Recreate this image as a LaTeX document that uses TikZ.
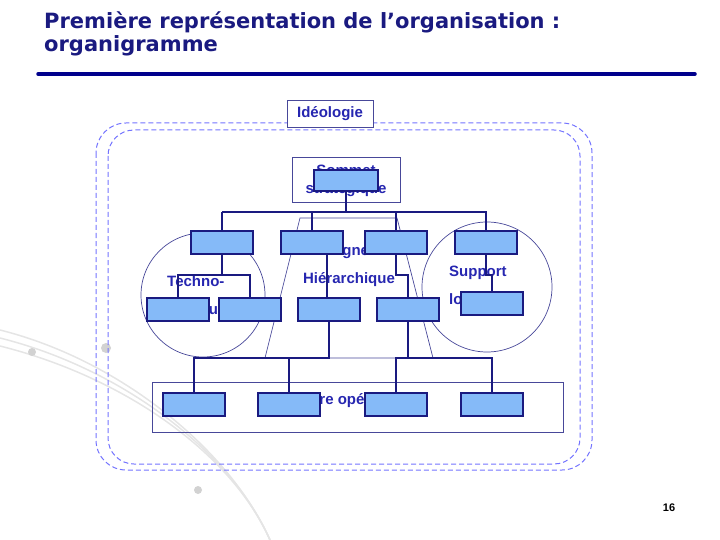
\documentclass[tikz,border=0pt]{standalone}
\usepackage{fontspec}
\setmainfont{Liberation Sans}
\newfontfamily\titlefont{DejaVu Sans}
\definecolor{navy}{HTML}{1A1A80}
\definecolor{lblue}{HTML}{2626B0}
\definecolor{bfill}{HTML}{85BAF8}
\begin{document}
\begin{tikzpicture}[x=1pt,y=-1pt,
  bx/.style={draw=navy,line width=2pt,fill=bfill},
  wire/.style={draw=navy,line width=2.4pt},
  thin/.style={draw=navy!80,line width=0.7pt},
  lab/.style={text=lblue,font=\bfseries\fontsize{15}{28}\selectfont},
  dsh/.style={draw=blue!55!white,line width=1pt,dash pattern=on 5pt off 3pt}]
\useasboundingbox (0,0) rectangle (720,540);
% decorative swirl
\foreach \r in {0,8,16} {\draw[gray!20,line width=1.5pt] (0,330+\r) .. controls (120,360+\r) and (230,450) .. (270,540);}
\fill[gray!35] (32,352) circle (4); \fill[gray!35] (106,348) circle (5); \fill[gray!35] (198,490) circle (4);
% title
\node[anchor=north west,inner sep=0,align=left,text=navy,font=\titlefont\bfseries\fontsize{21}{23}\selectfont] (title) at (44,12) {Première représentation de l’organisation :\\organigramme};
\coordinate (ul1) at (38,74); \coordinate (ul2) at (695,74);
\draw[line width=3.5pt,blue!55!black,line cap=round] (ul1) -- (ul2);
\node[font=\bfseries\fontsize{11}{12}\selectfont] (pg) at (669,508) {16};
% dashed frames
\draw[dsh,rounded corners=30pt] (96,123) rectangle (592,470);
\draw[dsh,rounded corners=26pt] (108,130) rectangle (580,464);
\node[fill=white,thin,minimum width=86pt,minimum height=27pt,lab,font=\bfseries\fontsize{15}{16}\selectfont] (ideo) at (330,113.5) {Idéologie};
% circles, trapezoid, rects
\draw[thin] (203,295) circle (62);
\draw[thin] (487,287) circle (65);
\draw[thin] (300,218) -- (265,358) -- (433,358) -- (397,218) -- cycle;
\draw[thin,fill=white] (292,157) rectangle (400,202);
\draw[thin] (152,382) rectangle (563,432);
% labels
\node[lab,align=center,font=\bfseries\fontsize{15}{18}\selectfont] (som) at (346,181) {Sommet\\stratégique};
\node[lab,align=left,anchor=west,inner sep=0] (tech) at (167,295) {Techno-\\structure};
\node[lab,align=center] (lig) at (349,266) {Ligne\\Hiérarchique};
\node[lab,align=left,anchor=west,inner sep=0] (sup) at (449,287) {Support\\logistique};
\node[lab] (ope) at (357,401) {Centre opérationnel};
% boxes
\tikzset{b/.style={bx,minimum width=62pt,minimum height=23pt,inner sep=0}}
\node[b,minimum width=64pt,minimum height=21pt] (s) at (346,180.5) {};
\node[b] (t1) at (222,242.5) {};
\node[b] (t2) at (312,242.5) {};
\node[b] (t3) at (396,242.5) {};
\node[b] (t4) at (486,242.5) {};
\node[b] (m1) at (178,309.5) {};
\node[b] (m2) at (250,309.5) {};
\node[b] (m3) at (329,309.5) {};
\node[b] (m4) at (408,309.5) {};
\node[b] (m5) at (492,303.5) {};
\node[b] (o1) at (194,404.5) {};
\node[b] (o2) at (289,404.5) {};
\node[b] (o3) at (396,404.5) {};
\node[b] (o4) at (492,404.5) {};
% wires
\draw[wire] (s.south) |- (222,212) -- (487,212);
\foreach \n in {t1,t2,t3,t4} \draw[wire] (\n.north) -- (\n.north |- 0,212);
\draw[wire] (t1.south) |- (186,275) -| (m1.north);
\draw[wire] (t1.south |- 0,275) -| (m2.north);
\draw[wire] (327,254) -- (327,298);
\draw[wire] (t3.south) |- (408,275) -- (m4.north);
\draw[wire] (t4.south) -- (486,275) -| (m5.north);
\draw[wire] (m3.south) |- (194,358) -- (o1.north);
\draw[wire] (o2.north) -- (o2.north |- 0,358);
\draw[wire] (m4.south) |- (396,358) -- (o3.north);
\draw[wire] (m4.south |- 0,358) -| (o4.north);
\end{tikzpicture}
\end{document}
